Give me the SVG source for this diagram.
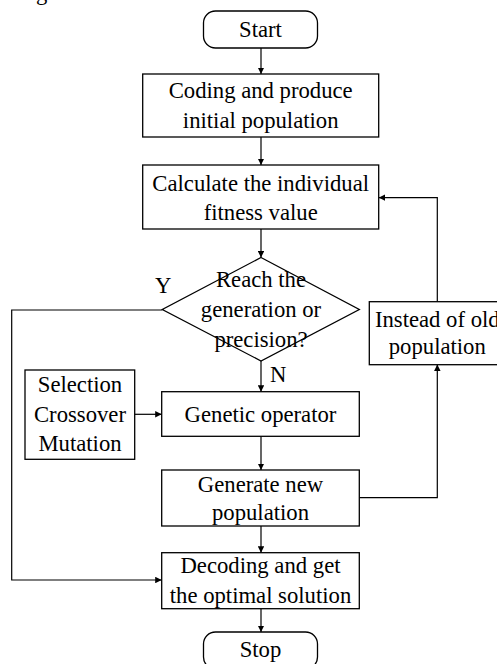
<svg xmlns="http://www.w3.org/2000/svg" width="497" height="664" viewBox="0 0 497 664">
<style>
  .box { fill: #fff; stroke: #000; stroke-width: 1.3; }
  .ln { fill: none; stroke: #000; stroke-width: 1.2; }
  text { font-family: "Liberation Serif", "Times New Roman", serif; font-size: 22.7px; fill: #000; text-anchor: middle; }
  .lbl { text-anchor: start; }
</style>
<defs>
  <marker id="ah" viewBox="0 0 10 10" refX="10" refY="5" markerWidth="6.5" markerHeight="6.5" markerUnits="userSpaceOnUse" orient="auto">
    <path d="M0,0 L10,5 L0,10 z" fill="#000"/>
  </marker>
</defs>
<rect width="497" height="664" fill="#fff"/>
<text class="lbl" x="36" y="0" font-size="24">g</text>

<g id="connectors">
  <line class="ln" x1="261" y1="48" x2="261" y2="74" marker-end="url(#ah)"/>
  <line class="ln" x1="261" y1="137" x2="261" y2="165" marker-end="url(#ah)"/>
  <line class="ln" x1="261" y1="229" x2="261" y2="257.5" marker-end="url(#ah)"/>
  <line class="ln" x1="261" y1="361" x2="261" y2="391.7" marker-end="url(#ah)"/>
  <line class="ln" x1="261" y1="436.3" x2="261" y2="470" marker-end="url(#ah)"/>
  <line class="ln" x1="261" y1="526" x2="261" y2="552.7" marker-end="url(#ah)"/>
  <line class="ln" x1="261" y1="608.7" x2="261" y2="632" marker-end="url(#ah)"/>
  <line class="ln" x1="134.7" y1="414.3" x2="161.7" y2="414.3" marker-end="url(#ah)"/>
  <polyline class="ln" points="162.3,310 11.7,310 11.7,580 161.7,580" marker-end="url(#ah)"/>
  <polyline class="ln" points="359.3,497.7 437.3,497.7 437.3,364.5" marker-end="url(#ah)"/>
  <polyline class="ln" points="437.3,301.7 437.3,197.7 378.7,197.7" marker-end="url(#ah)"/>
  <text class="lbl" x="155" y="293">Y</text>
  <text class="lbl" x="270" y="381.7">N</text>
</g>

<g id="start">
  <rect class="box" x="203.5" y="11" width="114" height="37" rx="12"/>
  <text x="260.5" y="37.3">Start</text>
</g>
<g id="coding">
  <rect class="box" x="142.7" y="74" width="236" height="63"/>
  <text x="260.7" y="97.7">Coding and produce</text>
  <text x="260.7" y="127.7">initial population</text>
</g>
<g id="fitness">
  <rect class="box" x="142.7" y="165" width="236" height="64"/>
  <text x="260.7" y="191">Calculate the individual</text>
  <text x="260.7" y="220">fitness value</text>
</g>
<g id="decision">
  <polygon class="box" points="261,257.5 359.3,309.5 261,361 162.3,309.5"/>
  <text x="261" y="286.7">Reach the</text>
  <text x="261" y="316.7">generation or</text>
  <text x="261" y="346.7">precision?</text>
</g>
<g id="instead">
  <rect class="box" x="369.3" y="301.7" width="140" height="63"/>
  <text x="437.3" y="326.7">Instead of old</text>
  <text x="437.3" y="354.3">population</text>
</g>
<g id="operators">
  <rect class="box" x="25" y="370" width="109.7" height="89.3"/>
  <text x="80" y="391.7">Selection</text>
  <text x="80" y="421.7">Crossover</text>
  <text x="80" y="450.7">Mutation</text>
</g>
<g id="genetic">
  <rect class="box" x="161.7" y="391.7" width="197.6" height="44.6"/>
  <text x="260.5" y="421.7">Genetic operator</text>
</g>
<g id="generate">
  <rect class="box" x="161.7" y="470" width="197.6" height="56"/>
  <text x="260.5" y="491.7">Generate new</text>
  <text x="260.5" y="520">population</text>
</g>
<g id="decoding">
  <rect class="box" x="161.7" y="552.7" width="197.6" height="56"/>
  <text x="260.5" y="573.3">Decoding and get</text>
  <text x="260.5" y="603.3">the optimal solution</text>
</g>
<g id="stop">
  <rect class="box" x="203.5" y="632" width="114" height="37" rx="12"/>
  <text x="260.5" y="656.7">Stop</text>
</g>
</svg>
